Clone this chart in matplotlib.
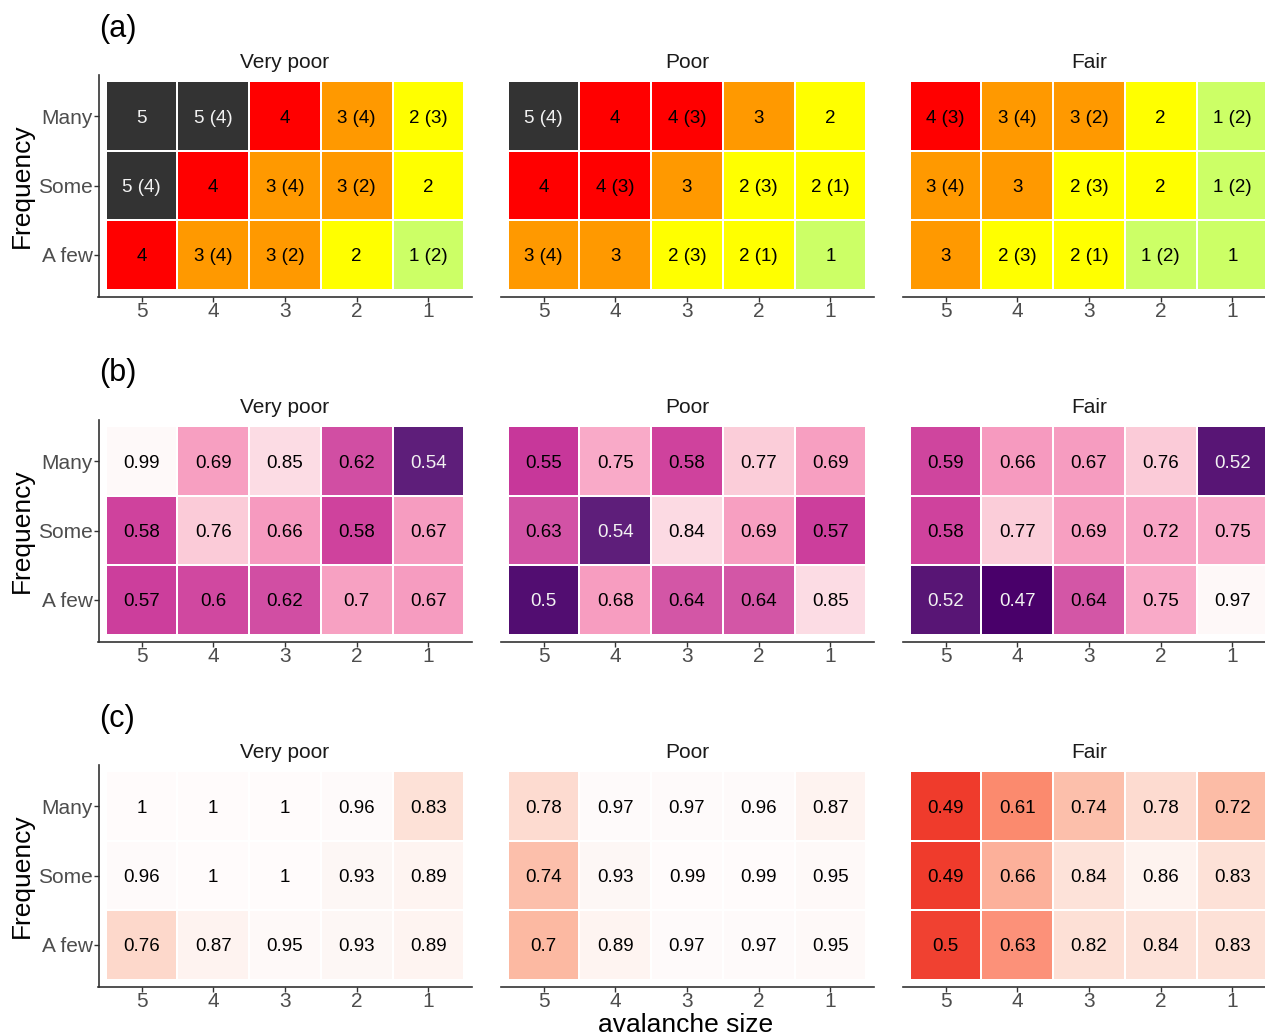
import matplotlib
matplotlib.use("Agg")
import matplotlib.pyplot as plt
import numpy as np
from matplotlib.colors import ListedColormap, BoundaryNorm, LinearSegmentedColormap, Normalize

plt.rcParams["font.family"] = ["Liberation Sans", "DejaVu Sans"]

# ---------------------------------------------------------------- data
conditions = ["Very poor", "Poor", "Fair"]
size_labels = ["5", "4", "3", "2", "1"]          # left to right
freq_labels = ["Many", "Some", "A few"]         # top to bottom

# (a) danger level per cell, with the alternative level in brackets (None = none)
danger_very_poor = [[5, 5, 4, 3, 2], [5, 4, 3, 3, 2], [4, 3, 3, 2, 1]]
alt_very_poor = [[None, 4, None, 4, 3], [4, None, 4, 2, None], [None, 4, 2, None, 2]]
danger_poor = [[5, 4, 4, 3, 2], [4, 4, 3, 2, 2], [3, 3, 2, 2, 1]]
alt_poor = [[4, None, 3, None, None], [None, 3, None, 3, 1], [4, None, 3, 1, None]]
danger_fair = [[4, 3, 3, 2, 1], [3, 3, 2, 2, 1], [3, 2, 2, 1, 1]]
alt_fair = [[3, 4, 2, None, 2], [4, None, 3, None, 2], [None, 3, 1, 2, None]]

# (b) agreement values
agree_b_very_poor = [[0.99, 0.69, 0.85, 0.62, 0.54], [0.58, 0.76, 0.66, 0.58, 0.67], [0.57, 0.60, 0.62, 0.70, 0.67]]
agree_b_poor = [[0.55, 0.75, 0.58, 0.77, 0.69], [0.63, 0.54, 0.84, 0.69, 0.57], [0.50, 0.68, 0.64, 0.64, 0.85]]
agree_b_fair = [[0.59, 0.66, 0.67, 0.76, 0.52], [0.58, 0.77, 0.69, 0.72, 0.75], [0.52, 0.47, 0.64, 0.75, 0.97]]

# (c) agreement values
agree_c_very_poor = [[1.00, 1.00, 1.00, 0.96, 0.83], [0.96, 1.00, 1.00, 0.93, 0.89], [0.76, 0.87, 0.95, 0.93, 0.89]]
agree_c_poor = [[0.78, 0.97, 0.97, 0.96, 0.87], [0.74, 0.93, 0.99, 0.99, 0.95], [0.70, 0.89, 0.97, 0.97, 0.95]]
agree_c_fair = [[0.49, 0.61, 0.74, 0.78, 0.72], [0.49, 0.66, 0.84, 0.86, 0.83], [0.50, 0.63, 0.82, 0.84, 0.83]]

# ---------------------------------------------------------------- colour scales
danger_colors = ["#ccff66", "#ffff00", "#ff9900", "#ff0000", "#333333"]
danger_cmap = ListedColormap(danger_colors)
danger_norm = BoundaryNorm([0.5, 1.5, 2.5, 3.5, 4.5, 5.5], danger_cmap.N)


def stepped_cmap(nodes, vmin, vmax):
    pos = [(v - vmin) / (vmax - vmin) for v, _ in nodes]
    return LinearSegmentedColormap.from_list("s", list(zip(pos, [c for _, c in nodes])), N=4096)


b_vmin, b_vmax = 0.45, 1.0
b_nodes = [(0.45, "#44005e"), (0.47, "#49006a"), (0.545, "#5f207b"), (0.5451, "#c6359a"),
           (0.58, "#cf429d"), (0.62, "#d14ea3"), (0.655, "#d55ca9"), (0.6551, "#f699bf"),
           (0.69, "#f79fc1"), (0.755, "#f9abc9"), (0.7551, "#fbcad8"), (0.77, "#fbcdd9"),
           (0.855, "#fcdde5"), (0.8551, "#fdeff2"), (1.0, "#fefafa")]
b_cmap = stepped_cmap(b_nodes, b_vmin, b_vmax)
b_norm = Normalize(b_vmin, b_vmax)

c_vmin, c_vmax = 0.45, 1.0
c_nodes = [(0.45, "#e8352a"), (0.49, "#ef3b2c"), (0.50, "#f04131"), (0.555, "#f44c37"),
           (0.5551, "#fb7f64"), (0.61, "#fb8a6e"), (0.63, "#fc9179"), (0.645, "#fc987f"),
           (0.6451, "#fcac95"), (0.66, "#fcb09a"), (0.70, "#fcb9a2"), (0.74, "#fcbfab"),
           (0.755, "#fcc2ae"), (0.7551, "#fdd7ca"), (0.78, "#fddbd0"), (0.84, "#fde2d9"),
           (0.855, "#fde4db"), (0.8551, "#fef1ec"), (0.86, "#fef3ef"), (0.89, "#fef4f1"),
           (0.93, "#fdf7f5"), (0.96, "#fefafa"), (1.0, "#fffbfb")]
c_cmap = stepped_cmap(c_nodes, c_vmin, c_vmax)
c_norm = Normalize(c_vmin, c_vmax)

# ---------------------------------------------------------------- layout
W, H = 1265, 1035
fig = plt.figure(figsize=(W / 100, H / 100), dpi=100)
fig.patch.set_facecolor("white")


def add_ax(x0, x1, y0, y1):
    return fig.add_axes([x0 / W, 1 - y1 / H, (x1 - x0) / W, (y1 - y0) / H])


col_x = [(98.5, 471.5), (500.5, 873.5), (902.5, 1275.5)]
row_y = [(74.5, 296.5), (419.5, 641.5), (764.5, 986.5)]
tags = ["(a)", "(b)", "(c)"]

xs = np.arange(1, 6)
ys = np.arange(1, 4)
x_edges = np.arange(0.5, 6.0, 1.0)
y_edges = np.arange(0.5, 4.0, 1.0)


def fmt(v):
    return f"{v:g}"


panels = [
    [(danger_very_poor, alt_very_poor), (danger_poor, alt_poor), (danger_fair, alt_fair)],
    [agree_b_very_poor, agree_b_poor, agree_b_fair],
    [agree_c_very_poor, agree_c_poor, agree_c_fair],
]

cell_text = dict(ha="center", va="center_baseline", fontsize=13.5)

for r in range(3):
    y0, y1 = row_y[r]
    for c in range(3):
        x0, x1 = col_x[c]
        ax = add_ax(x0, x1, y0, y1)
        if r == 0:
            levels, alts = panels[r][c]
            grid = np.array(levels, dtype=float)[::-1]
            ax.pcolormesh(x_edges, y_edges, grid, cmap=danger_cmap, norm=danger_norm,
                          edgecolors="white", linewidth=1.3)
            for i, row in enumerate(levels):
                for j, lvl in enumerate(row):
                    alt = alts[i][j]
                    label = f"{lvl}" if alt is None else f"{lvl} ({alt})"
                    color = "#f2f2f2" if lvl == 5 else "black"
                    ax.text(xs[j], 3 - i, label, color=color, **cell_text)
        else:
            vals = panels[r][c]
            grid = np.array(vals, dtype=float)[::-1]
            cmap, norm = (b_cmap, b_norm) if r == 1 else (c_cmap, c_norm)
            ax.pcolormesh(x_edges, y_edges, grid, cmap=cmap, norm=norm,
                          edgecolors="white", linewidth=1.3)
            for i, row in enumerate(vals):
                for j, v in enumerate(row):
                    color = "#f2f2f2" if (r == 1 and v < 0.545) else "black"
                    ax.text(xs[j], 3 - i, fmt(v), color=color, **cell_text)

        ax.set_xlim(0.4, 5.6)
        ax.set_ylim(0.4, 3.6)
        ax.set_xticks(xs)
        ax.set_xticklabels(size_labels)
        ax.tick_params(axis="x", length=3.5, width=1.0, color="#333333",
                       labelsize=15, labelcolor="#4d4d4d", pad=0.5)
        ax.tick_params(axis="y", length=3.5, width=1.0, color="#333333",
                       labelsize=15, labelcolor="#4d4d4d", pad=0.5)
        for s in ["top", "right"]:
            ax.spines[s].set_visible(False)
        ax.spines["bottom"].set_color("#333333")
        ax.spines["bottom"].set_linewidth(1.2)
        if c == 0:
            ax.set_yticks(ys)
            ax.set_yticklabels(freq_labels[::-1])
            ax.spines["left"].set_color("#333333")
            ax.spines["left"].set_linewidth(1.2)
        else:
            ax.spines["left"].set_visible(False)
            ax.set_yticks([])

        # panel title
        fig.text(((x0 + x1) / 2) / W, 1 - (y0 - 12) / H, conditions[c],
                 ha="center", va="center", fontsize=15, color="#1a1a1a")

    fig.text(99 / W, 1 - (y0 - 46) / H, tags[r], ha="left", va="center",
             fontsize=22, color="black")
    fig.text(22 / W, 1 - ((y0 + y1) / 2) / H, "Frequency", rotation=90,
             ha="center", va="center", fontsize=19, color="black")

fig.text(686 / W, 1 - 1025 / H, "avalanche size", ha="center", va="center",
         fontsize=19, color="black")

fig.savefig("out.png", dpi=100)
